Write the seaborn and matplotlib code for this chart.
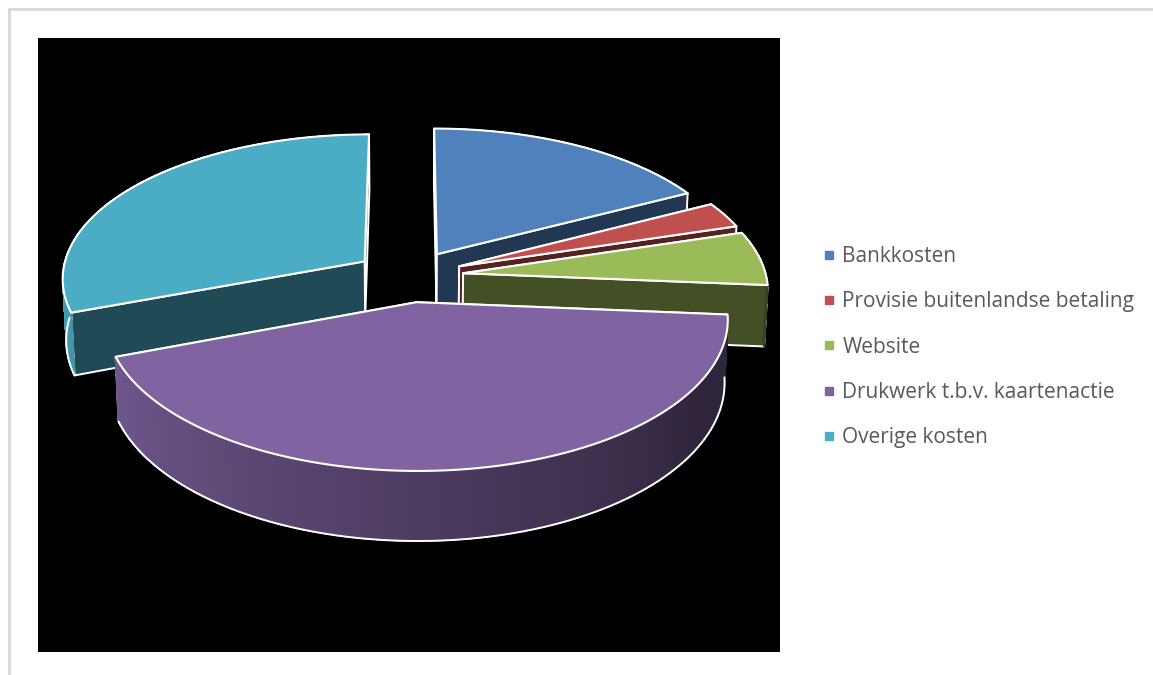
import numpy as np
import seaborn as sns
import matplotlib.pyplot as plt
from matplotlib.lines import Line2D
from matplotlib.patches import Polygon, Rectangle

# data
categories = ['Bankkosten', 'Provisie buitenlandse betaling', 'Website',
              'Drukwerk t.b.v. kaartenactie', 'Overige kosten']
values = [17.4, 2.9, 6, 43, 30.7]
slice_colors = ['#4F81BD', '#C0504D', '#9BBB59', '#8064A2', '#4BACC6']

# look of the 3D pie
START_ANGLE = 90
EXPLODE = 0.18
CX, CY = 409, 276
RX, RY = 303, 144
PERSP = 0.11
DEPTH = 61
TAPER = 0.01

sns.set_theme(style='white')
plt.rcParams['font.family'] = ['Open Sans', 'DejaVu Sans']
palette = sns.color_palette(slice_colors)


def project(x, y, z=0.0):
    p = 1 / (1 + PERSP * np.asarray(y))
    return np.column_stack([CX + x * RX * p * (1 - TAPER * z), CY - (y * RY - z * DEPTH) * p])


def shade(color, f):
    return tuple(c * f for c in color)


def side_shade(angle):
    # bright on the left, dark to the front right
    a = (angle % 360 - 180) / 150
    return float(np.clip(0.95 - 0.58 * a, 0.37, 0.95))


fig = plt.figure(figsize=(11.53, 6.75), dpi=100)
ax = fig.add_axes([0, 0, 1, 1])
ax.set_xlim(0, 1153)
ax.set_ylim(675, 0)
ax.axis('off')

ax.plot([9, 9, 1153], [675, 9, 9], color='#D9D9D9', lw=2, solid_joinstyle='miter')
ax.add_patch(Rectangle((38, 38), 742, 614, color='black', lw=0))

# angles of each slice, clockwise from the start
shares = np.array(values) / sum(values) * 360
ends = START_ANGLE - np.cumsum(shares)
starts = ends + shares

for i in [0, 1, 2, 4, 3]:
    th0, th1 = starts[i], ends[i]
    mid = np.radians((th0 + th1) / 2)
    ox, oy = EXPLODE * np.cos(mid), EXPLODE * np.sin(mid)
    t = np.radians(np.linspace(th0, th1, max(int(shares[i]), 2) * 3 + 1))
    ax_x, ax_y = ox + np.cos(t), oy + np.sin(t)
    col = palette[i]

    walls = []
    for th, px, py in [(th0, ax_x[0], ax_y[0]), (th1, ax_x[-1], ax_y[-1])]:
        quad = np.vstack([project(np.array([ox, px]), np.array([oy, py])),
                          project(np.array([px, ox]), np.array([py, oy]), 1.0)])
        walls.append(((oy + py) / 2, quad, shade(col, 0.43), True))
    for k in range(len(t) - 1):
        xs, ys = ax_x[k:k + 2], ax_y[k:k + 2]
        quad = np.vstack([project(xs, ys), project(xs[::-1], ys[::-1], 1.0)])
        f = side_shade(np.degrees(t[k]))
        walls.append((ys.mean(), quad, shade(col, f), False))

    for _, quad, c, edged in sorted(walls, key=lambda w: -w[0]):
        if edged:
            ax.add_patch(Polygon(quad, closed=True, facecolor=c, edgecolor='white', lw=1.4, joinstyle='round'))
        else:
            ax.add_patch(Polygon(quad, closed=True, facecolor=c, edgecolor=c, lw=0.6, antialiased=False))

    # outline of the outer wall, only where a real stretch of it faces us
    front = np.sin(t) < 0.03
    if front.sum() > 60:
        ax.plot(*project(ax_x[front], ax_y[front], 1.0).T, color='white', lw=1.4)
        first = np.argmax(front)
        if first > 0:
            sx, sy = ax_x[[first, first]], ax_y[[first, first]]
            edge = np.vstack([project(sx[:1], sy[:1]), project(sx[1:], sy[1:], 1.0)])
            ax.plot(*edge.T, color='white', lw=1.2)

    top = np.vstack([project(np.array([ox]), np.array([oy])), project(ax_x, ax_y)])
    ax.add_patch(Polygon(top, closed=True, facecolor=col, edgecolor='white', lw=1.5, joinstyle='round'))

handles = [Line2D([], [], ls='', marker='s', ms=6.2, mfc=c, mec=c) for c in palette]
ax.legend(handles, categories, loc='upper left', bbox_to_anchor=(822.5 / 1153, 1 - 246 / 675),
          frameon=False, fontsize=15, labelcolor='#595959', labelspacing=1.17,
          handlelength=0.6, handletextpad=0.36, borderaxespad=0, borderpad=0)

fig.savefig('out.png', dpi=100)
